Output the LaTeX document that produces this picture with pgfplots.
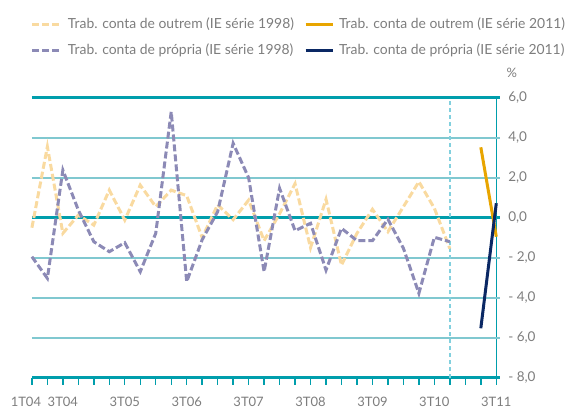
\documentclass[border=0pt]{standalone}
\usepackage{pgfplots}
\pgfplotsset{compat=1.18}
\usepackage{pgfplotstable}
\usepackage{fontspec}
\setmainfont{Lato}
\definecolor{teal1}{RGB}{0,158,172}
\definecolor{gridc}{RGB}{128,200,208}
\definecolor{vdashc}{RGB}{130,208,222}
\definecolor{or98}{RGB}{249,218,160}
\definecolor{pu98}{RGB}{140,138,182}
\definecolor{or11}{RGB}{232,165,0}
\definecolor{nv11}{RGB}{10,40,100}
\definecolor{txt}{RGB}{125,125,125}

\pgfplotstableread{
q outrem propria
0 -0.50 -1.95
1 3.55 -3.03
2 -0.78 2.38
3 0.13 0.38
4 -0.37 -1.20
5 1.38 -1.70
6 -0.12 -1.25
7 1.63 -2.70
8 0.55 -0.78
9 1.38 5.30
10 1.10 -3.20
11 -1.00 -1.10
12 0.65 0.30
13 -0.10 3.72
14 0.88 2.00
15 -1.15 -2.70
16 0.20 1.47
17 1.70 -0.65
18 -1.50 -0.28
19 0.92 -2.62
20 -2.37 -0.53
21 -0.78 -1.15
22 0.42 -1.15
23 -0.70 -0.08
24 0.55 -1.53
25 1.80 -3.78
26 0.47 -0.98
27 -1.55 -1.20
}\serieA

\pgfplotstableread{
q outrem propria
29 3.52 -5.53
30 -0.95 0.72
}\serieB

\begin{document}
\begin{tikzpicture}[x=1pt,y=1pt]
\begin{axis}[
  at={(31.9pt,32.3pt)}, anchor=south west,
  width=464.4pt, height=280pt, scale only axis,
  xmin=0, xmax=30, ymin=-8, ymax=6,
  axis x line*=bottom, axis y line*=right,
  x axis line style={teal1, line width=2.5pt},
  y axis line style={teal1, line width=1.4pt},
  xtick={0,...,30},
  xticklabels={{\hspace*{-12pt}1T04},,3T04,,,,3T05,,,,3T06,,,,3T07,,,,3T08,,,,3T09,,,,3T10,,,,3T11},
  ytick={-8,-6,...,6},
  yticklabels={{- 8,0},{- 6,0},{- 4,0},{- 2,0},{0,0},{2,0},{4,0},{6,0}},
  major tick length=7pt, tick align=outside,
  x tick style={teal1, line width=1.4pt},
  y tick style={draw=none},
  tick label style={text=txt, font=\fontsize{13.5}{15}\selectfont},
  xticklabel style={yshift=-9pt, font=\fontsize{13}{15}\selectfont},
  yticklabel style={anchor=west, xshift=1.5pt},
  clip=false,
  legend columns=2,
  legend cell align=left,
  legend image code/.code={\draw[#1] (0pt,0pt) -- (27pt,0pt);},
  legend style={draw=none, fill=none, text=txt,
    font=\fontsize{13.9}{15}\selectfont,
    at={(axis description cs:-0.002,1.283)}, anchor=north west,
    inner sep=0pt, outer sep=0pt,
    nodes={inner sep=0pt, text height=10pt, text depth=3pt},
    /tikz/column 1/.style={column sep=7pt},
    /tikz/column 2/.style={column sep=10pt},
    /tikz/column 3/.style={column sep=5pt},
    row sep=12.6pt},
]
\draw[gridc, line width=1.6pt] (axis cs:0,-6) -- (axis cs:30.22,-6);
\draw[gridc, line width=1.6pt] (axis cs:0,-4) -- (axis cs:30.22,-4);
\draw[gridc, line width=1.6pt] (axis cs:0,-2) -- (axis cs:30.22,-2);
\draw[gridc, line width=1.6pt] (axis cs:0,2) -- (axis cs:30.22,2);
\draw[gridc, line width=1.6pt] (axis cs:0,4) -- (axis cs:30.22,4);
\draw[teal1, line width=2.5pt] (axis cs:0,0) -- (axis cs:30.22,0);
\draw[teal1, line width=3pt] (axis cs:0,6) -- (axis cs:30.22,6);
\draw[teal1, line width=2.5pt] (axis cs:30,-8) -- (axis cs:30.22,-8);
\draw[vdashc, line width=1.3pt, dash pattern=on 4pt off 3pt] (axis cs:27,-8) -- (axis cs:27,6);

\addplot[or98, line width=3pt, dash pattern=on 7pt off 3pt] table[x=q, y=outrem] {\serieA};
\addlegendentry{Trab. conta de outrem (IE série 1998)}
\addplot[or11, line width=3pt] table[x=q, y=outrem] {\serieB};
\addlegendentry{Trab. conta de outrem (IE série 2011)}
\addplot[pu98, line width=3pt, dash pattern=on 7pt off 3pt] table[x=q, y=propria] {\serieA};
\addlegendentry{Trab. conta de própria (IE série 1998)}
\addplot[nv11, line width=3pt] table[x=q, y=propria] {\serieB};
\addlegendentry{Trab. conta de própria (IE série 2011)}

\node[text=txt, font=\fontsize{13}{15}\selectfont] at (rel axis cs:1,1) [xshift=15.5pt, yshift=24.5pt] {\%};
\end{axis}
\pgfresetboundingbox
\useasboundingbox (0,0) rectangle (568,410);
\end{tikzpicture}
\end{document}
